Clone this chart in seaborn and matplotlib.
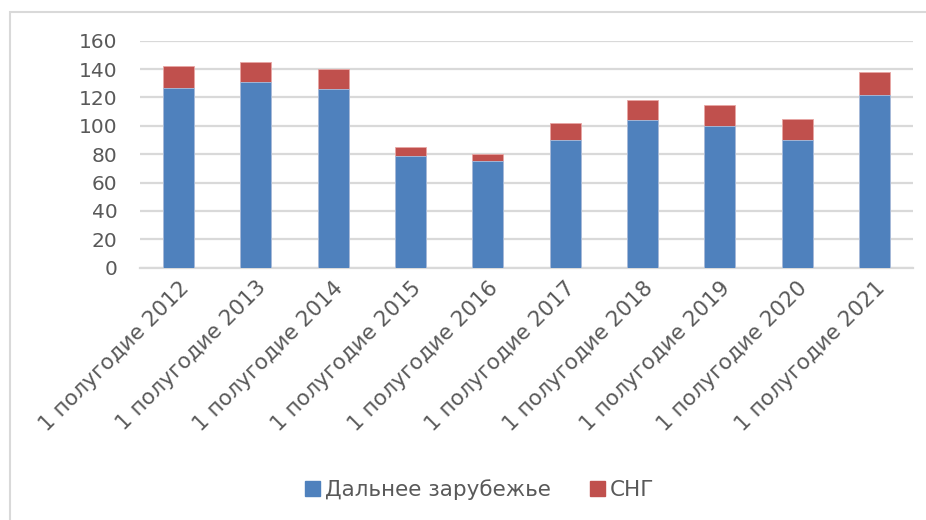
import matplotlib
matplotlib.use("Agg")
import matplotlib.pyplot as plt
import matplotlib.patches as mpatches
import seaborn as sns
import pandas as pd

periods = ["1 полугодие 2012", "1 полугодие 2013", "1 полугодие 2014",
           "1 полугодие 2015", "1 полугодие 2016", "1 полугодие 2017",
           "1 полугодие 2018", "1 полугодие 2019", "1 полугодие 2020",
           "1 полугодие 2021"]
far_abroad = [127, 131, 126, 79, 75, 90, 104, 100, 90, 122]
cis = [15, 14, 14, 6, 5, 12, 14, 15, 15, 16]
y_ticks = [0, 20, 40, 60, 80, 100, 120, 140, 160]

blue = "#4F81BD"
red = "#C0504D"
grid_c = "#D9D9D9"
text_c = "#595959"

sns.set_theme(style="white")
plt.rcParams["font.family"] = ["DejaVu Sans"]

df = pd.DataFrame({"period": periods, "far": far_abroad, "cis": cis})
df["total"] = df["far"] + df["cis"]

fig = plt.figure(figsize=(9.26, 5.2), dpi=100)
ax = fig.add_axes([0.151, 0.4852, 0.835, 0.4365])

# stacked bars: full height in red, far-abroad share drawn over it in blue
sns.barplot(data=df, x="period", y="total", color=red, saturation=1,
            width=0.4, ax=ax, edgecolor="#E8A6A4", linewidth=0.6, zorder=3)
sns.barplot(data=df, x="period", y="far", color=blue, saturation=1,
            width=0.4, ax=ax, edgecolor="#A9C1E0", linewidth=0.6, zorder=4)

ax.set_ylim(0, 160)
ax.set_xlim(-0.5, len(periods) - 0.5)
ax.set_yticks(y_ticks)
ax.set_yticklabels([str(v) for v in y_ticks], fontsize=14.5, color=text_c)
ax.yaxis.grid(True, color=grid_c, linewidth=1.6, zorder=0)
ax.set_axisbelow(True)
for s in ["top", "right", "left"]:
    ax.spines[s].set_visible(False)
ax.spines["bottom"].set_color(grid_c)
ax.spines["bottom"].set_linewidth(1.6)
ax.tick_params(axis="y", length=0, pad=16)
ax.tick_params(axis="x", length=0, pad=7)
ax.set_xlabel("")
ax.set_ylabel("")
ax.set_xticks(range(len(periods)))
ax.set_xticklabels(periods, rotation=45, ha="right", rotation_mode="anchor",
                   fontsize=15.5, color=text_c)

handles = [mpatches.Patch(color=blue, label="Дальнее зарубежье"),
           mpatches.Patch(color=red, label="СНГ")]
fig.legend(handles=handles, loc="center", bbox_to_anchor=(0.518, 0.058),
           ncol=2, frameon=False, fontsize=15.5, labelcolor=text_c,
           handlelength=0.7, handleheight=0.7, handletextpad=0.25,
           columnspacing=1.8)

# outer chart frame
fig.patches.append(mpatches.Rectangle((10 / 926, -0.05), 1.2, 1 - 12 / 520 + 0.05,
                                      transform=fig.transFigure, fill=False,
                                      edgecolor=grid_c, linewidth=1.5))

fig.savefig("out.png", dpi=100)
